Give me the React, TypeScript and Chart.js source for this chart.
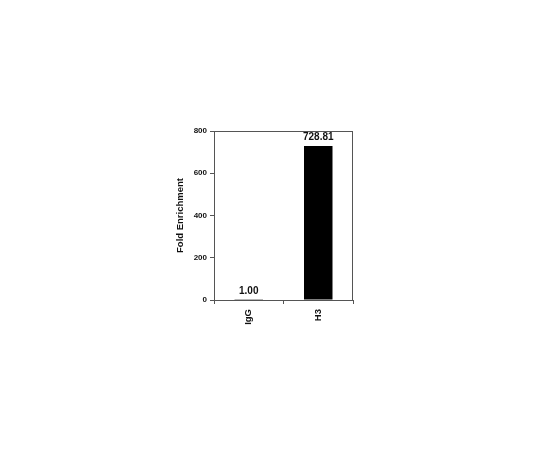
import React, { useEffect, useRef } from "react";
import { Chart, registerables } from "chart.js";

Chart.register(...registerables);

const categories = ["IgG", "H3"];
const values = [1.0, 728.81];
const valueLabels = ["1.00", "728.81"];
const yTicks = [0, 200, 400, 600, 800];

const FONT = "'Liberation Sans', Arial, sans-serif";

const framePlugin = {
  id: "frame",
  afterDraw(chart: any) {
    const { ctx, chartArea } = chart;
    ctx.save();
    ctx.strokeStyle = "#555";
    ctx.lineWidth = 1;
    ctx.strokeRect(
      Math.round(chartArea.left) + 0.5,
      Math.round(chartArea.top) + 0.5,
      Math.round(chartArea.right - chartArea.left) - 1,
      Math.round(chartArea.bottom - chartArea.top)
    );
    ctx.restore();
  },
};

const valueLabelPlugin = {
  id: "valueLabels",
  afterDatasetsDraw(chart: any) {
    const { ctx } = chart;
    const meta = chart.getDatasetMeta(0);
    ctx.save();
    ctx.font = `bold 10px ${FONT}`;
    ctx.fillStyle = "#111";
    ctx.textAlign = "center";
    ctx.textBaseline = "middle";
    meta.data.forEach((bar: any, i: number) => {
      ctx.fillText(valueLabels[i], bar.x, bar.y - 9);
    });
    ctx.restore();
  },
};

export default function App() {
  const ref = useRef<HTMLCanvasElement>(null);
  useEffect(() => {
    if (!ref.current) return;
    const chart = new Chart(ref.current, {
      type: "bar",
      data: {
        labels: categories,
        datasets: [
          {
            data: values,
            backgroundColor: "#000",
            borderWidth: 0,
            barPercentage: 0.41,
            categoryPercentage: 1,
          },
        ],
      },
      options: {
        animation: false,
        responsive: false,
        events: [],
        layout: { padding: { left: 175, top: 131, right: 187, bottom: 0 } },
        plugins: { legend: { display: false }, tooltip: { enabled: false } },
        scales: {
          x: {
            grid: {
              offset: true,
              drawOnChartArea: false,
              drawTicks: true,
              tickLength: 4,
              color: "#555",
            },
            border: { display: true, color: "#555" },
            ticks: {
              color: "#111",
              font: { family: FONT, size: 9.5, weight: "bold" },
              maxRotation: 90,
              minRotation: 90,
              padding: 5,
            },
            afterFit(scale: any) {
              scale.height = 150;
            },
          },
          y: {
            min: 0,
            max: 800,
            afterBuildTicks(scale: any) {
              scale.ticks = yTicks.map((v) => ({ value: v }));
            },
            grid: {
              drawOnChartArea: false,
              drawTicks: true,
              tickLength: 4,
              color: "#555",
            },
            border: { display: true, color: "#555" },
            ticks: {
              color: "#111",
              font: { family: FONT, size: 8, weight: "bold" },
              padding: 3,
            },
            title: {
              display: true,
              text: "Fold Enrichment",
              color: "#111",
              font: { family: FONT, size: 9.5, weight: "bold" },
              padding: { top: 0, bottom: 0 },
            },
            afterFit(scale: any) {
              scale.width = 39;
            },
          },
        },
      },
      plugins: [framePlugin, valueLabelPlugin],
    });
    return () => chart.destroy();
  }, []);
  return (
    <div style={{ position: "fixed", left: 0, top: 0, width: 540, height: 450, background: "#fff" }}>
      <canvas ref={ref} width={540} height={450} style={{ width: 540, height: 450 }} />
    </div>
  );
}
